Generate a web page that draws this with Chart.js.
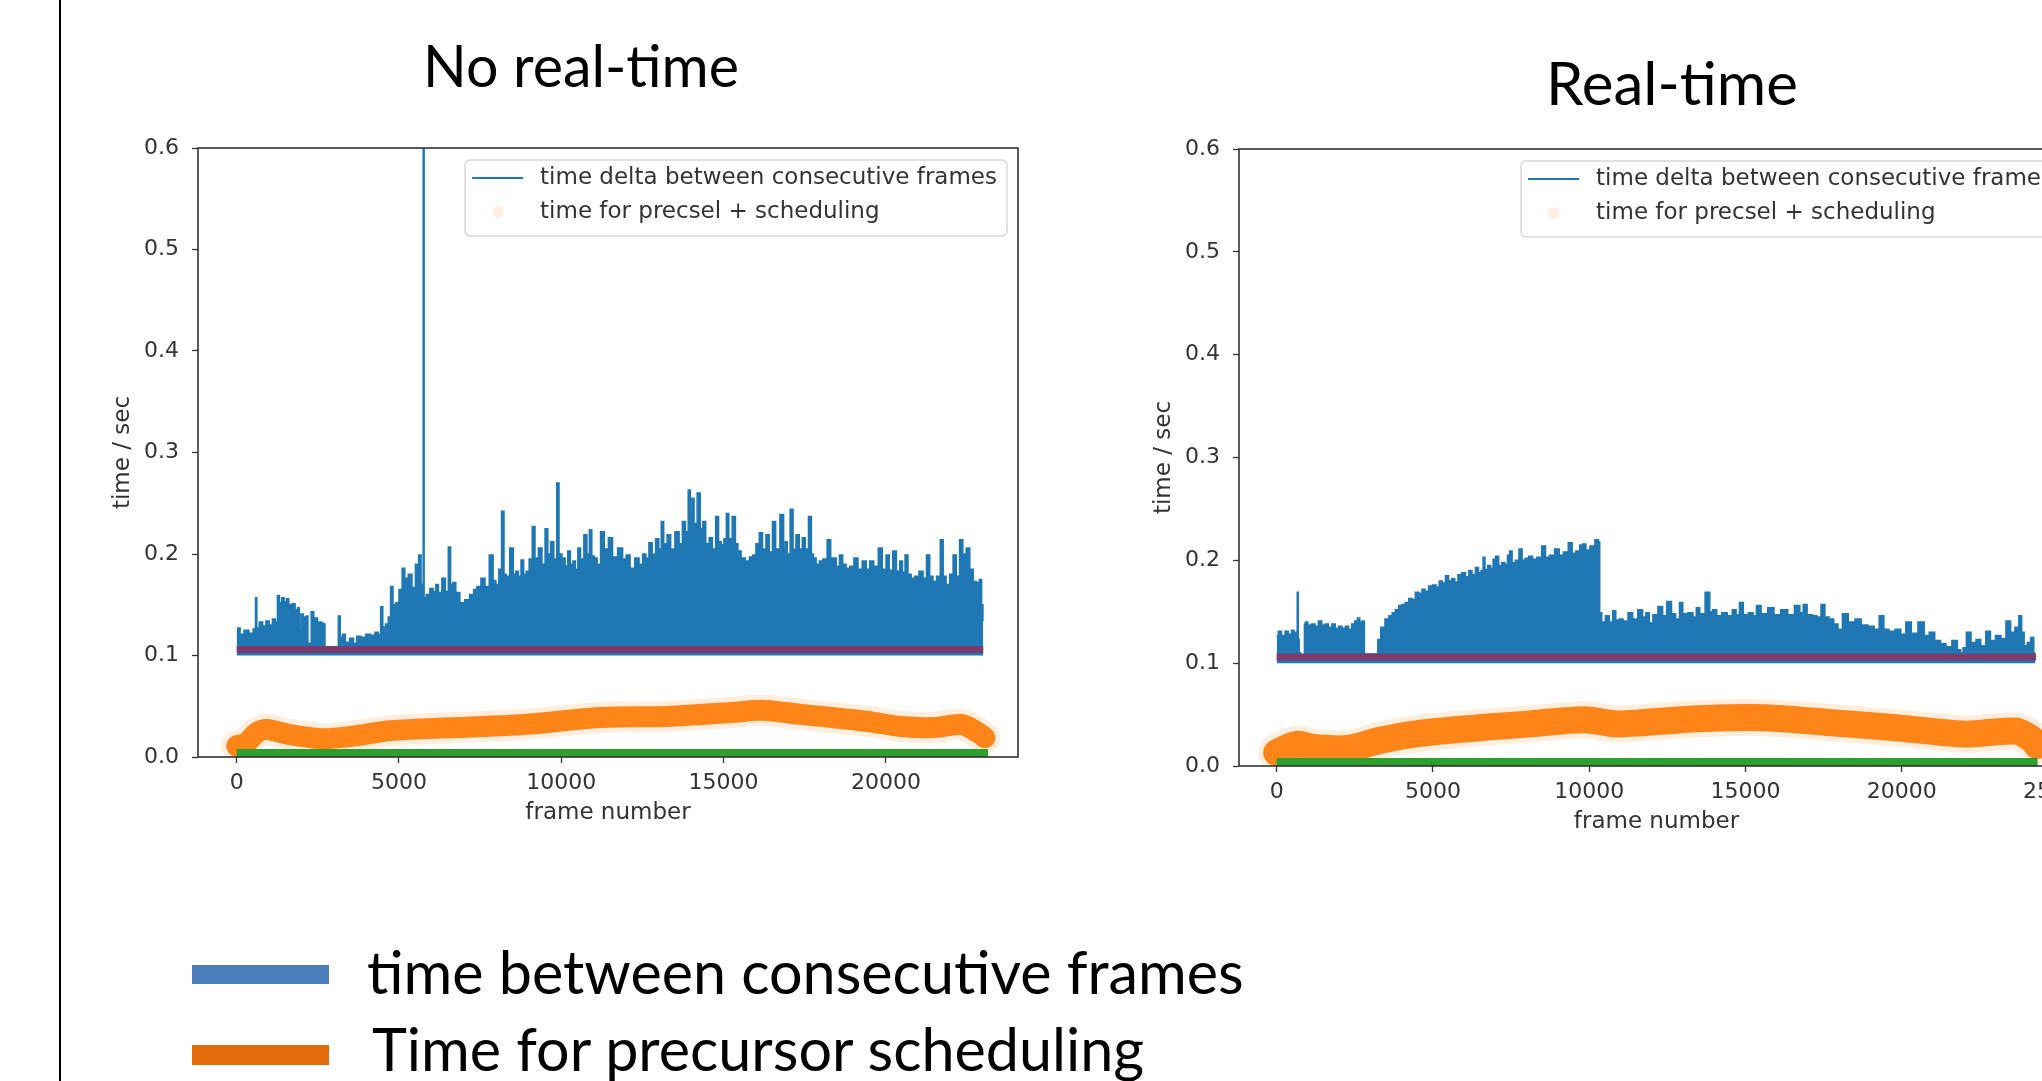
<!DOCTYPE html>
<html><head><meta charset="utf-8">
<script src="https://cdn.jsdelivr.net/npm/chart.js@4.4.0/dist/chart.umd.min.js"></script>
<style>
html,body{margin:0;padding:0;width:2042px;height:1081px;overflow:hidden;background:#fff;}
#stage{position:relative;width:2042px;height:1081px;overflow:hidden;background:#fff;}
.txt{position:absolute;left:0;top:0;font-family:Lato,'Open Sans',sans-serif;color:#000;white-space:nowrap;line-height:1.2;}
.bl{display:inline-block;width:0;height:0;vertical-align:baseline;}
canvas{position:absolute;}
</style></head><body>
<div id="stage">
  <div style="position:absolute;left:59px;top:0;width:2px;height:1081px;background:#000"></div>
  <div class="txt" id="t1"><span class="s">No real-time</span><span class="bl"></span></div>
  <div class="txt" id="t2"><span class="s">Real-time</span><span class="bl"></span></div>
  <div style="position:absolute;left:192px;top:965px;width:137px;height:19px;background:#4a7ebb"></div>
  <div style="position:absolute;left:192px;top:1045px;width:137px;height:20px;background:#e46c0a"></div>
  <div class="txt" id="l1"><span class="s">time between consecutive frames</span><span class="bl"></span></div>
  <div class="txt" id="l2"><span class="s">Time for precursor scheduling</span><span class="bl"></span></div>
  <canvas id="c1" width="933" height="711" style="left:105px;top:120px"></canvas>
  <canvas id="c2" width="958" height="719" style="left:1146px;top:121px"></canvas>
</div>
<script>
// ---------- data ----------
const yTicks = [0, 0.1, 0.2, 0.3, 0.4, 0.5, 0.6];
const leftXTicks = [0, 5000, 10000, 15000, 20000];
const rightXTicks = [0, 5000, 10000, 15000, 20000, 25000];
const legendLabels = ['time delta between consecutive frames', 'time for precsel + scheduling'];

// Left chart (No real-time): time delta between consecutive frames (upper envelope)
const leftDeltaFrames = [0,60,150,300,450,560,600,640,750,850,950,1050,1150,1230,1280,1350,1420,1500,1560,1650,1750,1850,1900,1960,2000,2100,2180,2210,2260,2330,2420,2560,2650,2700,2740,3100,3160,3220,3300,3400,3550,3650,3750,3900,4050,4200,4320,4400,4470,4530,4640,4700,4780,4850,4950,5050,5140,5220,5350,5450,5560,5650,5710,5740,5752,5768,5780,5900,6000,6100,6170,6260,6380,6480,6560,6620,6700,6800,6950,7100,7250,7350,7450,7600,7700,7860,7940,8030,8120,8200,8270,8340,8480,8560,8640,8720,8800,8880,8960,9060,9150,9230,9360,9450,9550,9620,9720,9820,9900,9960,10080,10160,10240,10320,10400,10470,10550,10640,10750,10830,10900,10980,11060,11150,11270,11380,11520,11640,11830,11950,12050,12190,12340,12450,12560,12650,12750,12850,12960,13050,13110,13200,13320,13420,13580,13680,13780,13870,13950,14000,14050,14130,14240,14320,14400,14500,14610,14700,14810,14880,14970,15050,15120,15200,15330,15400,15480,15600,15740,15850,15940,16050,16150,16250,16360,16450,16560,16650,16820,16880,16920,17000,17100,17180,17280,17380,17470,17560,17670,17740,17800,17900,18000,18120,18260,18340,18420,18520,18620,18720,18830,18950,19080,19200,19340,19450,19550,19700,19830,19950,20060,20150,20270,20380,20470,20550,20630,20730,20830,20950,21090,21200,21300,21400,21500,21620,21730,21800,21910,22020,22120,22220,22320,22420,22530,22640,22740,22840,22920,22980,23000];
const leftDeltaValues = [0.118,0.127,0.121,0.125,0.122,0.126,0.157,0.127,0.133,0.129,0.134,0.130,0.136,0.133,0.159,0.152,0.157,0.153,0.156,0.150,0.151,0.145,0.147,0.125,0.141,0.138,0.139,0.112,0.112,0.143,0.137,0.133,0.132,0.131,0.108,0.108,0.139,0.118,0.121,0.113,0.117,0.112,0.119,0.118,0.121,0.120,0.123,0.121,0.148,0.128,0.131,0.138,0.168,0.150,0.152,0.165,0.186,0.176,0.180,0.167,0.190,0.199,0.160,0.170,0.9,0.9,0.157,0.160,0.166,0.163,0.170,0.162,0.176,0.163,0.207,0.170,0.172,0.162,0.152,0.155,0.160,0.165,0.168,0.176,0.168,0.199,0.174,0.170,0.185,0.242,0.180,0.178,0.206,0.180,0.183,0.178,0.194,0.180,0.183,0.195,0.227,0.196,0.206,0.190,0.225,0.200,0.212,0.195,0.270,0.200,0.196,0.188,0.203,0.190,0.193,0.185,0.206,0.195,0.219,0.200,0.224,0.198,0.196,0.190,0.222,0.205,0.216,0.197,0.206,0.195,0.199,0.186,0.196,0.190,0.200,0.196,0.211,0.200,0.215,0.205,0.232,0.210,0.219,0.205,0.222,0.210,0.232,0.222,0.263,0.240,0.255,0.230,0.260,0.225,0.232,0.210,0.216,0.205,0.237,0.212,0.209,0.215,0.240,0.215,0.237,0.210,0.203,0.196,0.193,0.197,0.199,0.210,0.221,0.205,0.219,0.202,0.232,0.205,0.239,0.205,0.212,0.200,0.244,0.205,0.219,0.205,0.216,0.205,0.237,0.200,0.196,0.190,0.193,0.195,0.214,0.196,0.196,0.188,0.199,0.190,0.186,0.188,0.196,0.185,0.193,0.185,0.193,0.188,0.206,0.185,0.199,0.184,0.203,0.183,0.193,0.182,0.199,0.180,0.176,0.178,0.183,0.176,0.199,0.178,0.173,0.178,0.214,0.178,0.170,0.180,0.199,0.178,0.214,0.200,0.206,0.185,0.173,0.172,0.175,0.150,0.134];
const leftMinFrames = [0, 23000];
const leftMinValues = [0.106, 0.106];
const leftSchedFrames = [0,300,620,930,1650,2670,3700,4730,6790,8850,11210,13270,15330,16150,17390,19440,20470,21500,22330,22840,23050];
const leftSchedValues = [0.011,0.014,0.024,0.027,0.022,0.018,0.021,0.026,0.029,0.032,0.039,0.040,0.044,0.046,0.042,0.035,0.030,0.029,0.032,0.024,0.019];
const leftOtherFrames = [0, 23150];
const leftOtherValues = [0.004, 0.004];

// Right chart (Real-time)
const rightDeltaFrames = [0,100,213,320,427,520,588,650,665,685,700,740,800,876,900,940,1050,1176,1280,1390,1500,1600,1711,1820,1930,2032,2150,2250,2353,2450,2540,2620,2700,2781,2834,3209,3262,3400,3530,3650,3744,3850,3960,4060,4171,4280,4380,4492,4600,4700,4800,4920,5050,5150,5250,5350,5454,5550,5650,5750,5850,5989,6100,6200,6300,6417,6500,6580,6631,6700,6800,6900,6950,7059,7150,7250,7350,7420,7487,7580,7700,7807,7900,8000,8128,8250,8400,8556,8650,8800,8984,9100,9250,9412,9500,9650,9750,9840,9950,10100,10268,10320,10353,10450,10588,10700,10802,10900,11016,11150,11337,11450,11658,11760,11872,11979,12100,12300,12400,12568,12700,12835,12942,13050,13263,13380,13477,13600,13819,13900,14012,14150,14333,14500,14654,14750,14868,15000,15189,15300,15403,15600,15830,16000,16258,16450,16686,16800,16900,17050,17221,17350,17488,17600,17756,17900,18023,18184,18400,18611,18800,19039,19200,19360,19500,19681,19895,20050,20216,20400,20644,20800,20965,21150,21339,21500,21713,21850,21927,22000,22141,22300,22462,22600,22783,22900,23104,23250,23425,23550,23700,23800,23880,23960,24080,24174,24281];
const rightDeltaValues = [0.1265,0.131,0.127,0.131,0.128,0.132,0.130,0.128,0.169,0.169,0.123,0.110,0.106,0.107,0.138,0.140,0.137,0.138,0.136,0.141,0.137,0.138,0.135,0.138,0.134,0.136,0.134,0.136,0.133,0.138,0.141,0.144,0.140,0.141,0.109,0.109,0.123,0.135,0.143,0.146,0.149,0.152,0.156,0.157,0.159,0.163,0.162,0.169,0.168,0.172,0.170,0.175,0.176,0.174,0.180,0.178,0.185,0.180,0.182,0.179,0.186,0.188,0.184,0.190,0.186,0.193,0.188,0.190,0.203,0.191,0.195,0.192,0.201,0.204,0.195,0.198,0.196,0.205,0.209,0.198,0.200,0.211,0.200,0.202,0.204,0.201,0.203,0.214,0.203,0.205,0.211,0.205,0.208,0.217,0.207,0.209,0.215,0.216,0.210,0.214,0.220,0.218,0.149,0.140,0.146,0.140,0.151,0.142,0.143,0.141,0.149,0.143,0.152,0.145,0.149,0.139,0.147,0.155,0.146,0.160,0.148,0.143,0.159,0.148,0.149,0.145,0.154,0.148,0.169,0.150,0.152,0.146,0.149,0.146,0.152,0.147,0.159,0.147,0.149,0.146,0.156,0.148,0.154,0.147,0.152,0.147,0.156,0.149,0.157,0.147,0.146,0.145,0.157,0.145,0.143,0.138,0.133,0.148,0.140,0.143,0.137,0.136,0.133,0.146,0.133,0.131,0.133,0.128,0.140,0.129,0.140,0.127,0.130,0.122,0.119,0.116,0.122,0.113,0.110,0.115,0.130,0.120,0.123,0.117,0.131,0.122,0.127,0.124,0.141,0.130,0.135,0.146,0.130,0.117,0.120,0.125,0.110];
const rightMinFrames = [0, 24300];
const rightMinValues = [0.106, 0.106];
const rightSchedFrames = [0,640,1180,2250,3320,4390,5990,8130,9840,10800,11660,13480,15620,17760,19900,22030,23640,24170,24340];
const rightSchedValues = [0.013,0.021,0.018,0.017,0.025,0.031,0.036,0.041,0.045,0.041,0.042,0.046,0.047,0.042,0.037,0.031,0.034,0.026,0.020];
const rightOtherFrames = [0, 24350];
const rightOtherValues = [0.004, 0.004];

// ---------- helpers ----------
const pts = (xs, ys) => xs.map((x, i) => ({x: x, y: ys[i]}));

const framePlugin = {
  id: 'frame',
  afterDatasetsDraw(chart) {
    const {ctx, chartArea: a} = chart;
    ctx.save();
    ctx.strokeStyle = '#333';
    ctx.lineWidth = 1.6;
    ctx.strokeRect(a.left, a.top, a.right - a.left, a.bottom - a.top);
    ctx.restore();
  }
};

const legendPlugin = {
  id: 'mplLegend',
  afterDatasetsDraw(chart, args, opts) {
    const {ctx, chartArea: a} = chart;
    ctx.save();
    ctx.font = opts.font;
    const w = Math.max(...opts.labels.map(t => ctx.measureText(t).width));
    const boxW = 75 + w + 10, boxH = 76;
    const x0 = a.right - 11 - boxW, y0 = a.top + 12;
    ctx.beginPath();
    ctx.roundRect(x0, y0, boxW, boxH, 5);
    ctx.fillStyle = 'rgba(255,255,255,0.85)';
    ctx.fill();
    ctx.strokeStyle = '#d8d8d8';
    ctx.lineWidth = 1.5;
    ctx.stroke();
    ctx.beginPath();
    ctx.moveTo(x0 + 7, y0 + 18);
    ctx.lineTo(x0 + 58, y0 + 18);
    ctx.strokeStyle = '#1f77b4';
    ctx.lineWidth = 2;
    ctx.stroke();
    ctx.beginPath();
    ctx.arc(x0 + 33, y0 + 52, 6, 0, Math.PI * 2);
    ctx.fillStyle = 'rgba(255,127,14,0.12)';
    ctx.fill();
    ctx.fillStyle = '#333';
    ctx.textBaseline = 'middle';
    ctx.textAlign = 'left';
    ctx.fillText(opts.labels[0], x0 + 75, y0 + 18);
    ctx.fillText(opts.labels[1], x0 + 75, y0 + 52);
    ctx.restore();
  }
};

Chart.defaults.font.family = "'DejaVu Sans', sans-serif";

function makeChart(id, d) {
  const gridOpts = {display: true, drawOnChartArea: false, drawTicks: true, tickLength: 6, tickColor: '#333', tickWidth: 1.3};
  return new Chart(document.getElementById(id), {
    type: 'line',
    data: {datasets: [
      {label: 'min', data: pts(d.minF, d.minV), borderColor: '#7b3b6c', borderWidth: 7, fill: false, order: 0},
      {label: 'other', data: pts(d.othF, d.othV), borderColor: '#2ca02c', borderWidth: 8, fill: false, order: 1},
      {label: legendLabels[1], data: pts(d.schF, d.schV), borderColor: 'rgba(255,127,14,0.95)', borderWidth: d.orangeW, borderCapStyle: 'round', borderJoinStyle: 'round', tension: 0.3, fill: false, order: 2},
      {label: 'halo', data: pts(d.schF, d.schV), borderColor: 'rgba(255,127,14,0.14)', borderWidth: d.orangeW + 10, borderCapStyle: 'round', borderJoinStyle: 'round', tension: 0.3, fill: false, order: 3},
      {label: legendLabels[0], data: pts(d.delF, d.delV), borderColor: '#1f77b4', backgroundColor: '#1f77b4', borderWidth: 1.5, stepped: 'middle', fill: {value: 0.100}, order: 4, clip: 0}
    ]},
    options: {
      responsive: false, animation: false, devicePixelRatio: 1,
      layout: {padding: {top: 28, right: d.padRight, bottom: 0, left: 0}},
      elements: {point: {radius: 0, hoverRadius: 0}, line: {tension: 0}},
      plugins: {legend: {display: false}, tooltip: {enabled: false},
        mplLegend: {labels: legendLabels, font: "23px 'DejaVu Sans'"}},
      events: [],
      scales: {
        x: {type: 'linear', min: d.xMin, max: d.xMax,
          afterBuildTicks: s => { s.ticks = d.xTicks.map(v => ({value: v})); },
          afterFit: s => { s.height = 74; },
          ticks: {font: {size: 22}, color: '#333', padding: 7, maxRotation: 0, autoSkip: false, callback: v => String(v)},
          grid: gridOpts, border: {display: false},
          title: {display: true, text: 'frame number', font: {size: 23}, color: '#333', padding: {top: 4, bottom: 4}}},
        y: {min: 0, max: 0.6,
          afterBuildTicks: s => { s.ticks = yTicks.map(v => ({value: v})); },
          afterFit: s => { s.width = 93; },
          ticks: {font: {size: 22}, color: '#333', padding: 13, callback: v => v.toFixed(1)},
          grid: gridOpts, border: {display: false},
          title: {display: true, text: 'time / sec', font: {size: 23}, color: '#333', padding: {top: 4, bottom: 4}}}
      }
    },
    plugins: [framePlugin, legendPlugin]
  });
}

function fitText(id, o) {
  const el = document.getElementById(id);
  const span = el.querySelector('.s');
  let size = o.size;
  if (o.width) {
    el.style.fontSize = '100px';
    size = 100 * o.width / span.getBoundingClientRect().width;
  }
  el.style.fontSize = size + 'px';
  el.style.left = '0px'; el.style.top = '0px';
  const r = span.getBoundingClientRect();
  const b = el.querySelector('.bl').getBoundingClientRect();
  const left = (o.cx !== undefined) ? o.cx - r.width / 2 : o.left;
  el.style.left = (left - r.left) + 'px';
  el.style.top = (o.baseline - b.top) + 'px';
  return size;
}

function build() {
  fitText('t1', {cx: 581, baseline: 87, width: 316});
  fitText('t2', {cx: 1672, baseline: 105, width: 252});
  const s = fitText('l1', {left: 367, baseline: 994, width: 877});
  fitText('l2', {left: 372, baseline: 1071, size: s});

  makeChart('c1', {delF: leftDeltaFrames, delV: leftDeltaValues, minF: leftMinFrames, minV: leftMinValues,
    schF: leftSchedFrames, schV: leftSchedValues, othF: leftOtherFrames, othV: leftOtherValues,
    xMin: -1192, xMax: 24070, xTicks: leftXTicks, padRight: 20, orangeW: 21});
  makeChart('c2', {delF: rightDeltaFrames, delV: rightDeltaValues, minF: rightMinFrames, minV: rightMinValues,
    schF: rightSchedFrames, schV: rightSchedValues, othF: rightOtherFrames, othV: rightOtherValues,
    xMin: -1206, xMax: 25515, xTicks: rightXTicks, padRight: 30, orangeW: 27});
}
if (document.fonts && document.fonts.ready) { document.fonts.ready.then(build); } else { build(); }
</script>
</body></html>
